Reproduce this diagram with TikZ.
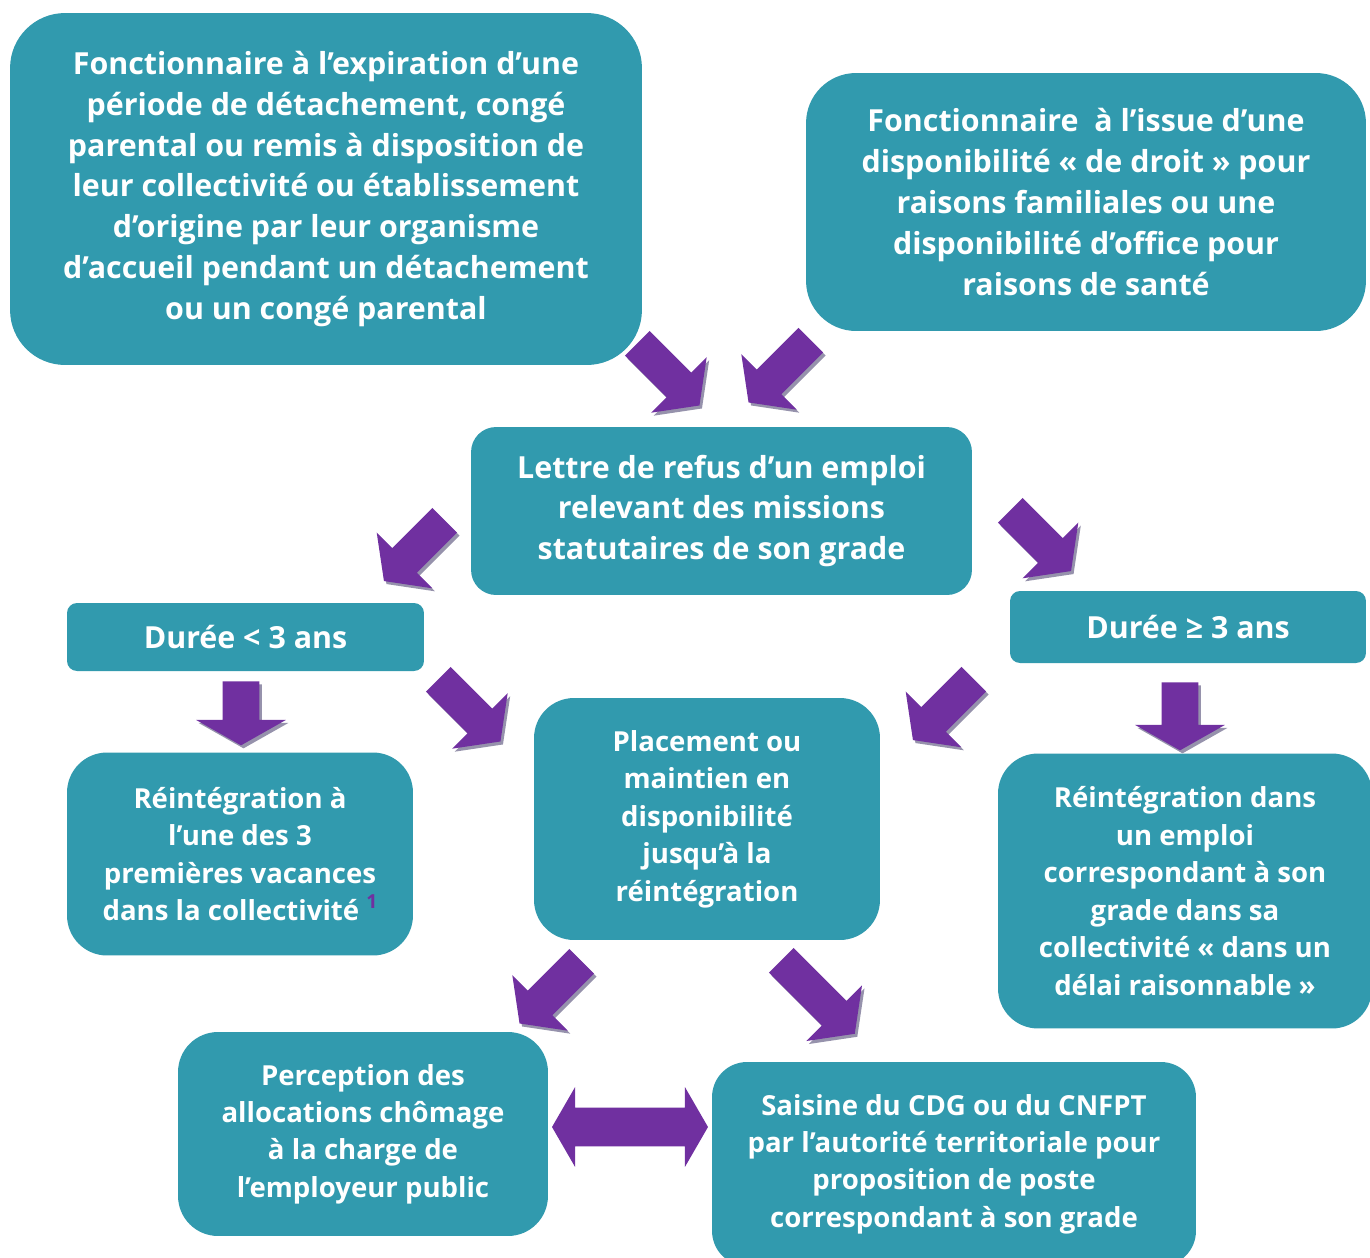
\documentclass[tikz,border=0pt]{standalone}
\usepackage{fontspec}
\setmainfont{Open Sans}
\usetikzlibrary{shapes.arrows,shadows}
\definecolor{cdgteal}{RGB}{49,154,174}
\definecolor{cdgviolet}{RGB}{112,48,160}
\definecolor{cdgombre}{RGB}{150,146,172}

\begin{document}
\begin{tikzpicture}[x=0.02cm,y=-0.02cm]
          \tikzstyle{every node}=[font=\bfseries]
          \tikzstyle{boite}=[fill=cdgteal, text=white, align=center, inner sep=0pt]
          \tikzstyle{grand}=[font=\fontsize{17.3}{23.2}\bfseries\selectfont]
          \tikzstyle{petit}=[font=\fontsize{15.7}{21.3}\bfseries\selectfont]
          \tikzstyle{fleche}=[single arrow, fill=cdgviolet, inner xsep=0pt, inner ysep=0.34cm, anchor=tail,
            minimum width=1.56cm, single arrow head extend=0.44cm, single arrow tip angle=107,
            drop shadow={fill=cdgombre, opacity=1, shadow xshift=0.05cm, shadow yshift=-0.06cm}]
          \tikzstyle{flechebas}=[fleche, inner ysep=0.36cm, minimum width=1.78cm, single arrow head extend=0.53cm,
            single arrow tip angle=121]
          \path[use as bounding box, fill=white] (0,0) rectangle (1370,1258);
          % boites
            \node[boite, grand, minimum width=12.64cm, minimum height=7.04cm, rounded corners=1.1cm] (fonct1) at (326,189)
              {Fonctionnaire à l’expiration d’une\\ période de détachement, congé\\ parental ou remis à disposition de\\ leur collectivité ou établissement\\ d’origine par leur organisme\\ d’accueil pendant un détachement\\ ou un congé parental};
            \node[boite, grand, minimum width=11.2cm, minimum height=5.16cm, rounded corners=1cm] (fonct2) at (1086,202)
              {Fonctionnaire\ \ à l’issue d’une\\ disponibilité « de droit » pour\\ raisons familiales ou une\\ disponibilité d’office pour\\ raisons de santé};
            \node[boite, grand, minimum width=10.02cm, minimum height=3.36cm, rounded corners=0.5cm] (lettre) at (721.5,511)
              {Lettre de refus d’un emploi\\ relevant des missions\\ statutaires de son grade};
            \node[boite, grand, minimum width=7.14cm, minimum height=1.36cm, rounded corners=0.2cm] (dureeA) at (245.5,637)
              {Durée < 3 ans};
            \node[boite, grand, minimum width=7.12cm, minimum height=1.44cm, rounded corners=0.2cm] (dureeB) at (1188,627)
              {Durée ≥ 3 ans};
            \node[boite, petit, minimum width=6.92cm, minimum height=4.06cm, rounded corners=0.8cm] (reintA) at (240,854)
              {Réintégration à\\ l’une des 3\\ premières vacances\\ dans la collectivité \raisebox{0.45em}{\fontsize{11}{11}\selectfont\color{cdgviolet}1}};
            \node[boite, petit, minimum width=6.92cm, minimum height=4.84cm, rounded corners=0.8cm] (placement) at (707,819)
              {Placement ou\\ maintien en\\ disponibilité\\ jusqu’à la\\ réintégration};
            \node[boite, petit, minimum width=7.48cm, minimum height=5.5cm, rounded corners=0.8cm] (reintB) at (1185,891)
              {Réintégration dans\\ un emploi\\ correspondant à son\\ grade dans sa\\ collectivité « dans un\\ délai raisonnable »};
            \node[boite, petit, minimum width=7.4cm, minimum height=4.08cm, rounded corners=0.8cm] (perception) at (363,1134)
              {Perception des\\ allocations chômage\\ à la charge de\\ l’employeur public};
            \node[boite, petit, minimum width=9.68cm, minimum height=4.08cm, rounded corners=0.7cm] (saisine) at (954,1164)
              {Saisine du CDG ou du CNFPT\\ par l’autorité territoriale pour\\ proposition de poste\\ correspondant à son grade};
          % fleches
            \node[fleche, rotate=-45, minimum height=1.76cm] (f1) at (637,343) {};
            \node[fleche, rotate=-135, minimum height=1.76cm] (f2) at (811,340) {};
            \node[fleche, rotate=-135, minimum height=1.72cm] (f3) at (445,520) {};
            \node[fleche, rotate=-45, minimum height=1.72cm] (f4) at (1010,510) {};
            \node[flechebas, rotate=-90, minimum height=1.28cm] (f5) at (241,681) {};
            \node[fleche, rotate=-45, minimum height=1.76cm] (f6) at (438,679) {};
            \node[fleche, rotate=-135, minimum height=1.72cm] (f7) at (974,679) {};
            \node[flechebas, rotate=-90, minimum height=1.36cm] (f8) at (1180,682) {};
            \node[fleche, rotate=-135, minimum height=1.76cm] (f9) at (582,961) {};
            \node[fleche, rotate=-45, minimum height=2.08cm] (f10) at (781,960) {};
            \node[double arrow, fill=cdgviolet, inner xsep=0pt, inner ysep=0.38cm, minimum height=3.12cm, minimum width=1.58cm,
              double arrow head extend=0.41cm, double arrow tip angle=120] (d1) at (630,1127) {};
        \end{tikzpicture}
\end{document}
